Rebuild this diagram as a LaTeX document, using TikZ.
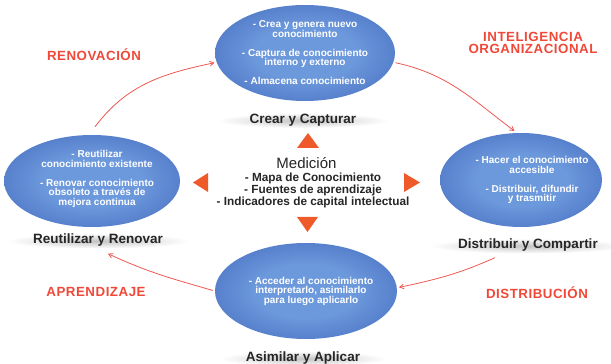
\documentclass[tikz,border=0pt]{standalone}
\usepackage{fontspec}
\setmainfont{Liberation Sans}
\newfontfamily\redfont[LetterSpace=4]{Liberation Sans}
\usetikzlibrary{shapes.geometric, arrows, calc}
\definecolor{bluedark}{RGB}{34,68,152}
\definecolor{bluemid}{RGB}{74,114,194}
\definecolor{bluelight}{RGB}{108,152,220}
\definecolor{redtxt}{RGB}{240,72,56}
\definecolor{redline}{RGB}{238,88,82}
\definecolor{trired}{RGB}{238,90,42}
\definecolor{labgray}{RGB}{196,196,196}
\pgfdeclareradialshading{bubshade}{\pgfpoint{0bp}{0bp}}{color(0bp)=(bluelight); color(14bp)=(bluelight); color(32bp)=(bluemid); color(50bp)=(bluedark); color(70bp)=(bluedark)}
\tikzstyle{bubble} = [ellipse, inner sep=0pt, shading=bubshade]
\tikzstyle{bubtext} = [text=white, font=\fontsize{10}{9.5}\selectfont\bfseries, align=center, inner sep=0pt]
\tikzstyle{stage} = [ellipse, inner sep=0pt, minimum height=15pt, text height=7pt, text depth=1pt, inner color=labgray, outer color=white, text=black!85, font=\fontsize{13.5}{14}\selectfont\bfseries]
\tikzstyle{phase} = [text=redtxt, font=\fontsize{13.3}{12}\redfont\bfseries, align=center, inner sep=0pt, anchor=base]
\tikzstyle{medida} = [font=\fontsize{11.8}{10.5}\selectfont\bfseries, text=black!85, align=center, inner sep=0pt]
\tikzstyle{tri} = [fill=trired]
\tikzstyle{arrow} = [redline, line width=0.8pt, ->, >=angle 60]

\begin{document}
\begin{tikzpicture}[x=1pt, y=1pt]
    \useasboundingbox (0,0) rectangle (611,364);

    % las cuatro etapas
    \node (crear) [bubble, minimum width=180pt, minimum height=96pt] at (305,311) {};
    \node (reut) [bubble, minimum width=176pt, minimum height=92pt] at (92,183) {};
    \node (dist) [bubble, minimum width=162pt, minimum height=94pt] at (521,184) {};
    \node (asim) [bubble, minimum width=182pt, minimum height=96pt] at (306,73) {};

    \node (crear_txt) [bubtext] at (crear) {- Crea y genera nuevo\\conocimiento\\[9.5pt]- Captura de conocimiento\\interno y externo\\[9.5pt]- Almacena conocimiento};
    \node (reut_txt) [bubtext, xshift=5pt, yshift=2pt] at (reut) {- Reutilizar\\conocimiento existente\\[9.5pt]- Renovar conocimiento\\obsoleto a trav\'es de\\mejora continua};
    \node (dist_txt) [bubtext, xshift=11pt] at (dist) {- Hacer el conocimiento\\accesible\\[9.5pt]- Distribuir, difundir\\y trasmitir};
    \node (asim_txt) [bubtext, xshift=5pt] at (asim) {- Acceder al conocimiento\\interpretarlo, asimilarlo\\para luego aplicarlo};

    \node (crear_lab) [stage, minimum width=172pt] at (303,243.5) {Crear y Capturar};
    \node (reut_lab) [stage, minimum width=180pt] at (98,123) {Reutilizar y Renovar};
    \node (dist_lab) [stage, minimum width=167pt] at (528,118) {Distribuir y Compartir};
    \node (asim_lab) [stage, minimum width=167pt] at (303,5.3) {Asimilar y Aplicar};

    % medicion en el centro
    \node (med) [font=\fontsize{15}{15}\selectfont, text=black!85, inner sep=0pt, anchor=base] at (306.5,195.7) {Medici\'on};
    \node (med_list) [medida] at (313,174) {- Mapa de Conocimiento\\- Fuentes de aprendizaje\\- Indicadores de capital intelectual};
    \fill [tri] (297,216) -- (319,216) -- (308,231) -- cycle;
    \fill [tri] (297,147) -- (318,147) -- (307.5,132) -- cycle;
    \fill [tri] (208,172) -- (208,191) -- (193,181.5) -- cycle;
    \fill [tri] (404,172) -- (404,191) -- (420,181.5) -- cycle;

    % fases
    \node (renov) [phase] at (94,303.3) {RENOVACI\'ON};
    \node (intel) [phase] at (533,310) {INTELIGENCIA\\ORGANIZACIONAL};
    \node (aprend) [phase] at (96,67.3) {APRENDIZAJE};
    \node (distrib) [phase] at (537,65.7) {DISTRIBUCI\'ON};

    \coordinate (renov_a) at ($(reut.north)+(3,8)$);
    \coordinate (distrib_a) at ($(dist_lab.south)+(-33,-4)$);
    \coordinate (aprend_b) at ($(reut_lab.south)+(10,-5)$);

    \draw [arrow, shorten >=2pt] (renov_a) to[out=53, in=192] (crear.186);
    \draw [arrow, shorten <=2pt, shorten >=3pt] (crear.-6) to[out=-12, in=143] (dist.95);
    \draw [arrow, shorten >=2pt] (distrib_a) to[out=204, in=12] (asim.2);
    \draw [arrow, shorten <=2pt] (asim.180) to[out=164, in=-25] (aprend_b);
\end{tikzpicture}
\end{document}
